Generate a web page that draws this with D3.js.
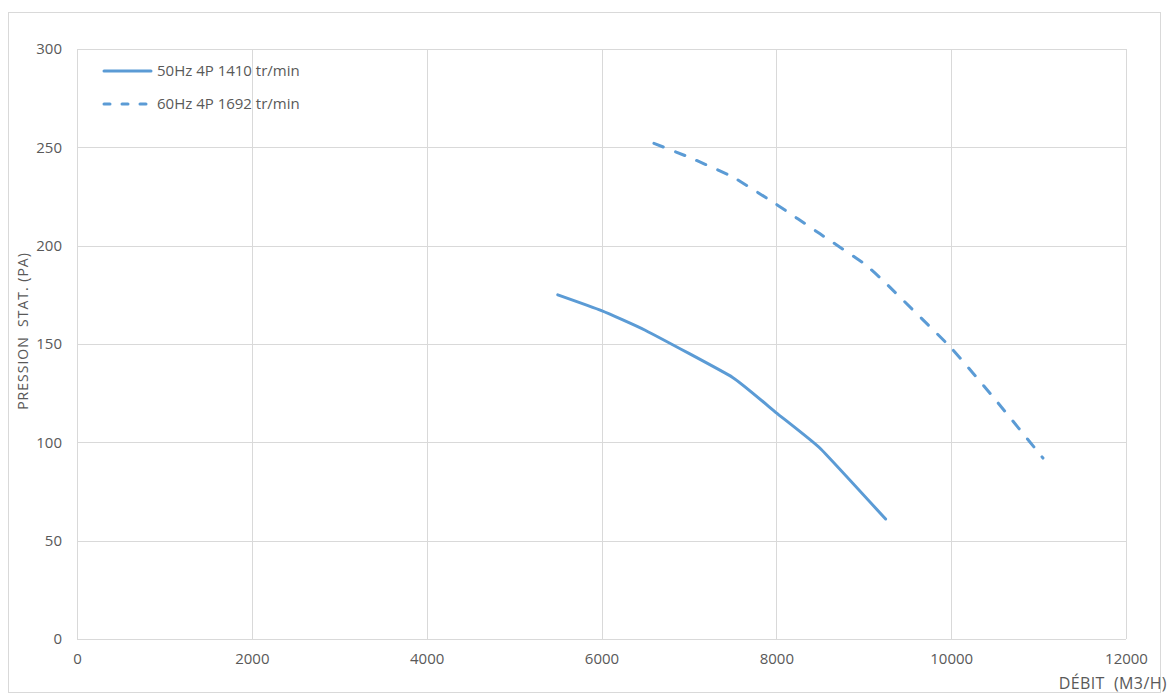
<!DOCTYPE html>
<html><head><meta charset="utf-8">
<script src="https://cdn.jsdelivr.net/npm/d3@7"></script>
<style>
body{margin:0;background:#fff;}
text{font-family:"Open Sans",sans-serif;fill:#595959;}
</style></head>
<body><svg id="c" width="1169" height="693"></svg>
<script>
const xTicks = [0, 2000, 4000, 6000, 8000, 10000, 12000];
const yTicks = [0, 50, 100, 150, 200, 250, 300];
const seriesNames = ["50Hz 4P 1410 tr/min", "60Hz 4P 1692 tr/min"];
const flow50 = [5500, 6000, 6500, 7500, 8000, 8500, 9250];
const press50 = [175, 167, 157, 133, 115, 97, 61];
const flow60 = [6600, 7000, 7500, 8000, 8500, 9000, 9250, 10000, 10500, 11050];
const press60 = [252, 245, 235, 221, 206, 191, 181, 148, 122, 92];
const xTitle = "DÉBIT  (M3/H)";
const yTitle = "PRESSION  STAT. (PA)";

const svg = d3.select("#c");
const m = {l: 77, r: 1126, t: 49, b: 639};
const color = "#5b9bd5";

svg.append("rect").attr("x", 8.5).attr("y", 12.5).attr("width", 1152).attr("height", 680)
  .attr("fill", "#fff").attr("stroke", "#d9d9d9");

const x = d3.scaleLinear().domain([0, 12000]).range([m.l, m.r]);
const y = d3.scaleLinear().domain([0, 300]).range([m.b, m.t]);

const grid = svg.append("g");
grid.selectAll(".vx").data(xTicks).join("line")
  .attr("x1", d => Math.round(x(d)) + 0.5).attr("x2", d => Math.round(x(d)) + 0.5)
  .attr("y1", m.t).attr("y2", m.b).attr("stroke", "#d9d9d9");
grid.selectAll(".hy").data(yTicks).join("line")
  .attr("y1", d => Math.round(y(d)) + 0.5).attr("y2", d => Math.round(y(d)) + 0.5)
  .attr("x1", m.l).attr("x2", m.r).attr("stroke", "#d9d9d9");

const xAxis = d3.axisBottom(x).tickValues(xTicks).tickSize(0).tickPadding(14).tickFormat(d3.format("d"));
const gx = svg.append("g").attr("transform", `translate(0,${m.b})`).call(xAxis);
gx.select(".domain").remove();
gx.selectAll("text").style("font-family", '"Open Sans",sans-serif').style("font-size", "15px").attr("fill", "#595959");

const yAxis = d3.axisLeft(y).tickValues(yTicks).tickSize(0).tickPadding(15).tickFormat(d3.format("d"));
const gy = svg.append("g").attr("transform", `translate(${m.l},0)`).call(yAxis);
gy.select(".domain").remove();
gy.selectAll("text").style("font-family", '"Open Sans",sans-serif').style("font-size", "15px").attr("fill", "#595959");

svg.append("text").attr("x", 1167).attr("y", 689).attr("text-anchor", "end")
  .style("font-size", "16px").style("letter-spacing", "0.4px").style("white-space", "pre").text(xTitle);
svg.append("text").attr("transform", "translate(28,331) rotate(-90)").attr("text-anchor", "middle")
  .style("font-size", "14px").style("letter-spacing", "1px").style("white-space", "pre").text(yTitle);

const line = d3.line().x(d => x(d[0])).y(d => y(d[1])).curve(d3.curveCardinal.tension(0.6));
const d50 = flow50.map((v, i) => [v, press50[i]]);
const d60 = flow60.map((v, i) => [v, press60[i]]);

svg.append("path").datum(d50).attr("d", line).attr("fill", "none")
  .attr("stroke", color).attr("stroke-width", 3).attr("stroke-linecap", "round");
svg.append("path").datum(d60).attr("d", line).attr("fill", "none")
  .attr("stroke", color).attr("stroke-width", 3).attr("stroke-linecap", "round")
  .attr("stroke-dasharray", "10,13");

const leg = svg.append("g");
const ly = [71, 104];
seriesNames.forEach((n, i) => {
  const l = leg.append("line").attr("x1", 104).attr("x2", 151).attr("y1", ly[i]).attr("y2", ly[i])
    .attr("stroke", color).attr("stroke-width", 3).attr("stroke-linecap", "round");
  if (i === 1) l.attr("stroke-dasharray", "6,12");
  leg.append("text").attr("x", 157).attr("y", ly[i]).attr("dy", "0.35em")
    .style("font-size", "15px").text(n);
});
</script></body></html>
